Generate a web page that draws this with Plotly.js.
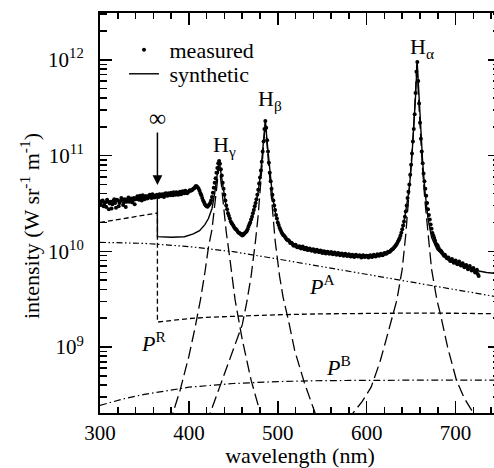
<!DOCTYPE html>
<html><head><meta charset="utf-8">
<script src="https://cdn.plot.ly/plotly-3.0.1.min.js"></script>
<style>html,body{margin:0;padding:0;overflow:hidden;background:#fff;}#chart{width:510px;height:468px;}</style>
</head><body><div id="chart"></div>
<script>
// All intensities below are in units of 1e10 W sr^-1 m^-1
const UNIT = 1e10;

// measured spectrum (even wavelengths + Halpha core)
const measX = [300,302,304,306,308,310,312,314,316,318,320,322,324,326,328,330,332,334,336,338,340,342,344,346,348,350,352,354,356,358,360,362,364,366,368,370,372,374,376,378,380,382,384,386,388,390,392,394,396,398,400,402,404,406,408,410,412,414,416,418,420,422,424,426,428,430,432,434,436,438,440,442,444,446,448,450,452,454,456,458,460,462,464,466,468,470,472,474,476,478,480,482,484,486,488,490,492,494,496,498,500,502,504,506,508,510,512,514,516,518,520,522,524,526,528,530,532,534,536,538,540,542,544,546,548,550,552,554,556,558,560,562,564,566,568,570,572,574,576,578,580,582,584,586,588,590,592,594,596,598,600,602,604,606,608,610,612,614,616,618,620,622,624,626,628,630,632,634,636,638,640,642,644,646,648,650,651,652,653,654,655,656,657,658,659,660,661,662,663,664,666,668,670,672,674,676,678,680,682,684,686,688,690,692,694,696,698,700,702,704,706,708,710,712,714,716,718,720,722,724,726];
const measY = [3.20,3.35,2.95,3.25,3.45,2.75,3.30,3.10,3.50,2.85,3.40,3.20,3.60,3.05,3.50,3.30,3.65,3.40,3.25,3.60,3.50,3.75,3.45,3.65,3.85,3.50,3.75,3.60,3.90,3.60,3.85,3.70,3.90,3.70,3.85,3.95,3.70,4.05,3.80,3.95,4.10,3.85,4.05,4.15,3.90,4.20,4.00,4.15,4.30,4.05,4.25,4.30,4.40,4.55,4.80,4.65,4.30,3.85,3.40,3.10,2.95,3.00,3.20,3.70,4.60,5.80,7.40,8.80,7.20,5.20,3.90,3.00,2.50,2.20,1.98,1.85,1.72,1.66,1.56,1.52,1.46,1.52,1.58,1.70,1.90,2.15,2.50,2.95,3.50,4.40,5.90,8.60,14.0,23.0,14.5,8.40,5.40,3.90,3.00,2.40,2.00,1.76,1.60,1.48,1.42,1.33,1.30,1.22,1.21,1.14,1.17,1.10,1.13,1.07,1.12,1.05,1.09,1.03,1.07,1.01,1.05,0.99,1.04,0.98,1.02,0.96,1.00,0.95,0.99,0.94,0.98,0.93,0.97,0.92,0.96,0.91,0.95,0.90,0.94,0.89,0.93,0.88,0.92,0.87,0.92,0.88,0.91,0.86,0.91,0.87,0.90,0.86,0.91,0.87,0.92,0.88,0.93,0.90,0.94,0.91,0.96,0.94,0.99,0.99,1.04,1.07,1.13,1.20,1.30,1.45,1.70,2.05,2.60,3.60,5.00,8.00,10.5,14.0,19.0,27.0,45.0,75.0,95.0,60.0,35.0,22.0,15.0,11.0,8.30,6.50,4.50,3.20,2.40,1.90,1.55,1.38,1.20,1.14,1.03,1.00,0.93,0.92,0.85,0.86,0.79,0.83,0.76,0.80,0.73,0.78,0.71,0.75,0.68,0.72,0.65,0.70,0.63,0.67,0.60,0.64,0.55];
// measured spectrum (odd wavelengths)
const measOddX = [301,303,305,307,309,311,313,315,317,319,321,323,325,327,329,331,333,335,337,339,341,343,345,347,349,351,353,355,357,359,361,363,365,367,369,371,373,375,377,379,381,383,385,387,389,391,393,395,397,399,401,403,405,407,409,411,413,415,417,419,421,423,425,427,429,431,433,435,437,439,441,443,445,447,449,451,453,455,457,459,461,463,465,467,469,471,473,475,477,479,481,483,485,487,489,491,493,495,497,499,501,503,505,507,509,511,513,515,517,519,521,523,525,527,529,531,533,535,537,539,541,543,545,547,549,551,553,555,557,559,561,563,565,567,569,571,573,575,577,579,581,583,585,587,589,591,593,595,597,599,601,603,605,607,609,611,613,615,617,619,621,623,625,627,629,631,633,635,637,639,641,643,645,647,649,665,667,669,671,673,675,677,679,681,683,685,687,689,691,693,695,697,699,701,703,705,707,709,711,713,715,717,719,721,723,725];
const measOddY = [3.05,3.40,3.15,2.90,3.30,3.15,2.80,3.35,3.20,3.45,2.95,3.35,3.50,3.25,2.90,3.45,3.30,3.55,3.40,3.10,3.60,3.50,3.80,3.40,3.60,3.75,3.55,3.80,3.70,3.95,3.65,3.80,3.85,3.95,3.75,3.85,4.00,3.85,4.05,3.85,4.00,4.15,3.90,4.05,4.10,3.95,4.25,4.05,4.20,4.15,4.35,4.35,4.50,4.70,4.75,4.50,4.05,3.60,3.25,3.00,2.92,3.08,3.40,4.10,5.20,6.60,8.30,8.20,6.20,4.50,3.40,2.75,2.35,2.05,1.92,1.78,1.70,1.60,1.55,1.50,1.48,1.55,1.62,1.80,2.00,2.30,2.70,3.20,3.90,5.10,7.00,11.0,19.0,19.5,11.0,6.60,4.50,3.40,2.70,2.20,1.88,1.68,1.53,1.46,1.38,1.31,1.27,1.23,1.17,1.16,1.12,1.10,1.11,1.08,1.07,1.08,1.04,1.05,1.03,1.04,1.01,1.00,1.01,0.99,1.00,0.97,0.98,0.97,0.96,0.96,0.95,0.95,0.94,0.94,0.93,0.93,0.92,0.92,0.91,0.91,0.90,0.90,0.89,0.89,0.90,0.89,0.88,0.89,0.88,0.89,0.88,0.89,0.88,0.89,0.90,0.90,0.91,0.92,0.92,0.93,0.95,0.96,0.98,1.01,1.05,1.10,1.16,1.25,1.37,1.56,1.86,2.30,3.00,4.20,6.30,5.40,3.80,2.75,2.15,1.72,1.46,1.29,1.17,1.08,1.02,0.96,0.90,0.88,0.84,0.82,0.80,0.78,0.77,0.76,0.75,0.73,0.72,0.71,0.70,0.69,0.67,0.66,0.65,0.63,0.62,0.58];

// synthetic spectrum
const synX = [300,330,364.5,364.6,380,395,405,412,418,422,426,429,431.5,434,436.5,439,442,446,452,458,462,467,471,475,478,481,483.5,486,488.5,491,494,497,502,508,515,525,540,555,570,585,600,615,625,632,638,642,645,648,650.5,653,655,656.8,658.7,660.7,663,665.5,669,673,679,690,701,712,723,735,750];
const synY = [3.24,3.42,3.65,1.42,1.40,1.42,1.52,1.64,1.90,2.20,2.80,4.00,6.00,8.90,6.20,4.20,2.90,2.20,1.75,1.55,1.55,1.75,2.20,3.00,4.20,7.00,12.5,23.2,12.5,6.80,3.80,2.60,1.75,1.40,1.22,1.12,1.05,1.00,0.96,0.93,0.90,0.92,0.98,1.10,1.40,2.00,2.90,4.60,8.50,18.0,42.0,96.0,42.0,18.0,8.50,4.30,2.20,1.40,1.05,0.83,0.76,0.68,0.63,0.60,0.58];

// H-gamma line component
const hgX = [376,382,390,400,407,413,418,422,426,429,431.5,434,436.5,439,442,446,452,460,470,480,486];
const hgY = [0.016,0.0204,0.035,0.080,0.16,0.31,0.60,1.10,1.70,3.00,5.00,7.70,5.00,3.00,1.60,0.85,0.31,0.12,0.045,0.021,0.016];
// H-beta line component
const hbX = [418,424,435,450,460,465,470,475,478,481,483.5,486,488.5,491,494,497,502,506,512,519,530,542,548];
const hbY = [0.016,0.0204,0.039,0.092,0.17,0.29,0.55,1.30,2.40,5.50,11.0,22.0,11.0,5.50,2.40,1.30,0.55,0.33,0.19,0.092,0.042,0.0204,0.016];
// H-alpha line component
const haX = [578,585,595,605,615,622,630,634,640,644,647,650,652.5,654.5,656.5,658.5,660.5,662.5,665.5,669,673,679,683,691,701,710,720,727];
const haY = [0.017,0.0204,0.027,0.038,0.070,0.12,0.22,0.31,0.65,1.50,3.40,8.00,17.0,38.0,94.0,38.0,17.0,8.00,3.40,1.50,0.65,0.31,0.22,0.10,0.045,0.029,0.0204,0.017];

// continuum components
const pAX = [300,350,400,450,500,550,600,650,700,750];
const pAY = [1.24,1.21,1.12,0.99,0.83,0.69,0.58,0.48,0.40,0.33];
const pRX = [300,364.6,364.6,380,400,425,450,500,550,600,650,700,750];
const pRY = [2.00,2.51,0.182,0.190,0.198,0.205,0.210,0.217,0.222,0.225,0.226,0.225,0.222];
const pBX = [300,325,350,375,400,450,500,550,600,650,700,750];
const pBY = [0.0245,0.0285,0.032,0.035,0.038,0.0415,0.0435,0.0445,0.045,0.045,0.045,0.045];

const yTickVals = [1e9,1e10,1e11,1e12];
const yTickText = ['10<sup>9</sup>','10<sup>10</sup>','10<sup>11</sup>','10<sup>12</sup>'];

const sc = a => a.map(v => v*UNIT);
const FONT = 'Liberation Serif';

const lineTrace = (x, y, dash, w) => ({x, y: sc(y), type:'scatter', mode:'lines', showlegend:false,
  line:{color:'black', width:w, dash:dash}, hoverinfo:'skip'});

const traces = [
  lineTrace(pAX, pAY, '6px,2.5px,1.5px,2.5px,1.5px,2.5px', 1.2),
  lineTrace(pRX, pRY, '5px,3px', 1.3),
  lineTrace(pBX, pBY, '7px,3px,1.5px,3px', 1.2),
  lineTrace(hgX, hgY, '12px,5px', 1.3),
  lineTrace(hbX, hbY, '12px,5px', 1.3),
  lineTrace(haX, haY, '12px,5px', 1.3),
  {x: measX.concat(measOddX), y: sc(measY.concat(measOddY)), type:'scatter', mode:'markers',
   name:'\u00a0measured', legend:'legend',
   marker:{color:'black', size:4, symbol:'circle', line:{width:0}}},
  {x: synX, y: sc(synY), type:'scatter', mode:'lines', name:'\u00a0synthetic', legend:'legend2',
   line:{color:'black', width:1.4}}
];

const yMinor = [];
for (let e = 8; e <= 12; e++) for (let d = 2; d <= 9; d++) yMinor.push(d*Math.pow(10,e));

const annFont = {family: FONT, size: 22, color:'black'};
const legFont = {family: FONT, size: 22, color:'black'};
const layout = {
  width: 510, height: 468,
  margin: {l:100, r:10, t:13, b:55},
  paper_bgcolor:'white', plot_bgcolor:'white',
  font: {family: FONT, size: 21, color:'black'},
  showlegend: true,
  legend: {x:0.06, y:0.9075, xanchor:'left', yanchor:'middle', bgcolor:'rgba(0,0,0,0)', font:legFont, itemwidth:30},
  legend2: {x:0.06, y:0.8475, xanchor:'left', yanchor:'middle', bgcolor:'rgba(0,0,0,0)', font:legFont, itemwidth:30},
  xaxis: {range:[300,750], dtick:100, tick0:0, ticks:'inside', ticklen:12, tickwidth:1.5,
    tickcolor:'black', showline:true, linewidth:2, linecolor:'black', mirror:'allticks',
    showgrid:false, zeroline:false, tickfont:{family:FONT, size:21},
    minor:{dtick:20, ticks:'inside', ticklen:6, tickwidth:1.5, tickcolor:'black', showgrid:false},
    title:{text:'wavelength (nm)', font:{family:FONT, size:22}, standoff:6}},
  yaxis: {type:'log', range:[8.31,12.49], tickmode:'array', tickvals:yTickVals, ticktext:yTickText,
    ticks:'inside', ticklen:12, tickwidth:1.5, tickcolor:'black', showline:true, linewidth:2,
    linecolor:'black', mirror:'allticks', showgrid:false, zeroline:false,
    tickfont:{family:FONT, size:21}, ticklabelstandoff:10,
    minor:{tickmode:'array', tickvals:yMinor, ticks:'inside', ticklen:7, tickwidth:1.5, tickcolor:'black', showgrid:false}},
  annotations: [
    {xref:'paper', yref:'paper', x:-0.175, y:0.4675, xanchor:'center', yanchor:'middle', textangle:-90,
     text:'intensity (W sr<sup>-1</sup> m<sup>-1</sup>)', showarrow:false, font:annFont},
    {x:364.6, y:10.693, xref:'x', yref:'y', text:'∞', showarrow:true, ax:0, ay:-67,
     arrowhead:2, arrowsize:1.3, arrowwidth:1.5, arrowcolor:'black', font:{family:FONT,size:24,color:'black'}},
    {x:440, y:11.10, xref:'x', yref:'y', text:'H<sub>γ</sub>', showarrow:false, font:annFont},
    {x:491.3, y:11.58, xref:'x', yref:'y', text:'H<sub>β</sub>', showarrow:false, font:annFont},
    {x:662.8, y:12.124, xref:'x', yref:'y', text:'H<sub>α</sub>', showarrow:false, font:annFont},
    {x:550.3, y:9.648, xref:'x', yref:'y', text:'<i>P</i><sup>A</sup>', showarrow:false, font:annFont},
    {x:360.2, y:9.052, xref:'x', yref:'y', text:'<i>P</i><sup>R</sup>', showarrow:false, font:annFont},
    {x:568.3, y:8.801, xref:'x', yref:'y', text:'<i>P</i><sup>B</sup>', showarrow:false, font:annFont}
  ]
};

Plotly.newPlot('chart', traces, layout, {staticPlot:true, displayModeBar:false});
</script>
</body></html>
